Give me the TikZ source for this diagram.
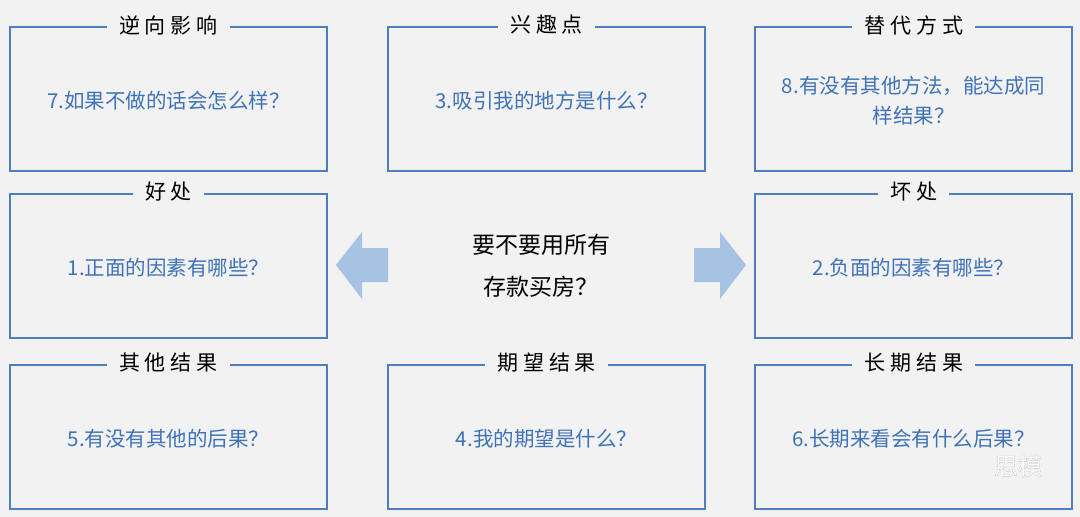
\documentclass[tikz,border=0pt]{standalone}
\usepackage{fontspec}
\setmainfont{Noto Sans CJK SC}
\definecolor{bg}{HTML}{F2F2F2}
\definecolor{frame}{HTML}{4F7EC0}
\definecolor{txt}{HTML}{3F72B8}
\definecolor{arr}{HTML}{A6C3E3}
\begin{document}
\begin{tikzpicture}[x=1pt,y=-1pt,
  boxs/.style={draw=frame,line width=1.3pt},
  ttl/.style={fill=bg,inner xsep=12pt,inner ysep=2pt,font=\fontsize{21}{24}\selectfont},
  body/.style={text=txt,font=\fontsize{20.5}{30}\selectfont,align=center,text width=290pt}]
\fill[bg] (0,0) rectangle (1080,517);
\useasboundingbox (0,0) rectangle (1080,517);
\def\mybox#1#2#3#4#5{%
  \draw[boxs] (#2,#3) rectangle (#2+317,#3+144);
  \node[ttl] (#1t) at (#2+158.5,#3-2) {#4};
  \node[body] (#1b) at (#2+158.5,#3+74) {#5};}
\mybox{a}{10}{27}{逆\hspace{5pt}向\hspace{5pt}影\hspace{5pt}响}{7.如果不做的话会怎么样？}
\mybox{b}{388}{27}{兴\hspace{5pt}趣\hspace{5pt}点}{3.吸引我的地方是什么？}
\mybox{c}{755}{27}{替\hspace{5pt}代\hspace{5pt}方\hspace{5pt}式}{8.有没有其他方法，能达成同\\样结果？}
\mybox{d}{10}{194}{好\hspace{5pt}处}{1.正面的因素有哪些？}
\mybox{e}{755}{194}{坏\hspace{5pt}处}{2.负面的因素有哪些？}
\mybox{f}{10}{365}{其\hspace{5pt}他\hspace{5pt}结\hspace{5pt}果}{5.有没有其他的后果？}
\mybox{g}{388}{365}{期\hspace{5pt}望\hspace{5pt}结\hspace{5pt}果}{4.我的期望是什么？}
\mybox{h}{755}{365}{长\hspace{5pt}期\hspace{5pt}结\hspace{5pt}果}{6.长期来看会有什么后果？}
\node[align=center,font=\fontsize{23}{42}\selectfont] (q) at (541,266) {要不要用所有\\存款买房？};
\fill[arr] (336,265) -- (362,232) -- (362,248) -- (388,248) -- (388,282) -- (362,282) -- (362,299) -- cycle;
\fill[arr] (746,265) -- (720,232) -- (720,248) -- (694,248) -- (694,282) -- (720,282) -- (720,299) -- cycle;
\node[text=gray!60,font=\fontsize{24}{26}\selectfont\addfontfeatures{FakeBold=1}] (wm0) at (1018,466) {思模};
\node[text=white,font=\fontsize{24}{26}\selectfont] (wm) at (1018,466) {思模};
\end{tikzpicture}
\end{document}
